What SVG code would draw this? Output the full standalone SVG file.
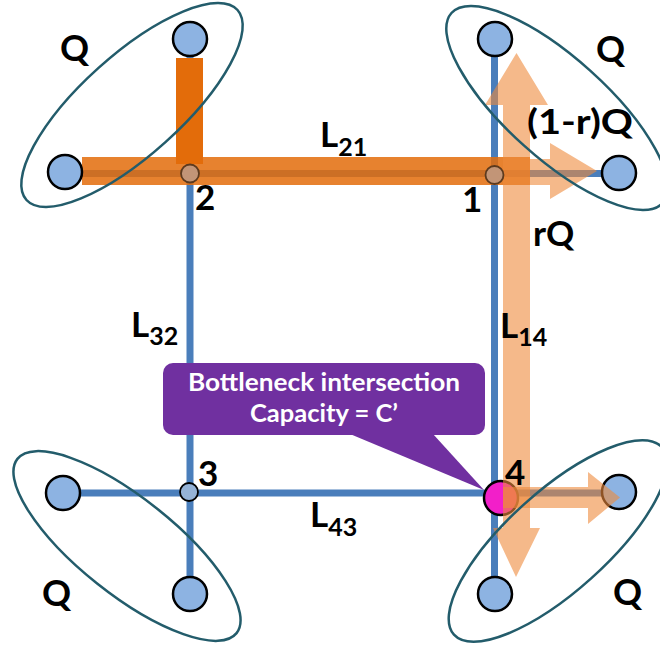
<svg xmlns="http://www.w3.org/2000/svg" width="660" height="645" viewBox="0 0 660 645">
<style>
.road{stroke:#4A7EBB;stroke-width:7;fill:none}
.big{fill:#8DB3E2;stroke:#000;stroke-width:2.5}
.grp{fill:none;stroke:#235C6B;stroke-width:2.5}
.peach{fill:#EE8A3C;fill-opacity:0.6}
.lbl{font-family:Lato,"Liberation Sans",sans-serif;font-weight:bold;fill:#000}
.call{font-family:Lato,"Liberation Sans",sans-serif;font-weight:bold;fill:#fff;font-size:24px}
</style>
<rect width="660" height="645" fill="#fff"/>
<g id="connectors">
  <g id="roads">
    <line class="road" x1="190" y1="39" x2="190" y2="594"/>
    <line class="road" x1="494.5" y1="39" x2="494.5" y2="594"/>
    <line class="road" x1="65" y1="173.5" x2="619" y2="173.5"/>
    <line class="road" x1="63" y1="493" x2="619" y2="493"/>
  </g>
  <g id="flow-main">
    <rect x="82" y="157" width="448" height="28" fill="#E36C0A" fill-opacity="0.85"/>
    <rect x="176" y="58" width="27" height="106" fill="#E36C0A"/>
  </g>
</g>
<g id="node-tl-top"><circle class="big" cx="190" cy="39" r="17"/></g>
<g id="node-tl-left"><circle class="big" cx="65" cy="172" r="17"/></g>
<g id="node-tr-top"><circle class="big" cx="495" cy="39" r="17"/></g>
<g id="node-tr-right"><circle class="big" cx="619" cy="173" r="17"/></g>
<g id="node-bl-left"><circle class="big" cx="63" cy="493" r="17"/></g>
<g id="node-bl-bottom"><circle class="big" cx="190" cy="594" r="17"/></g>
<g id="node-br-bottom"><circle class="big" cx="495" cy="594" r="17"/></g>
<g id="node-br-right"><circle class="big" cx="619" cy="492" r="17"/></g>
<g id="node-4"><circle cx="501" cy="498" r="17" fill="#F21FC9" stroke="#000" stroke-width="2.5"/></g>
<g id="flow-arrows">
  <polygon class="peach" points="503,498 503,105 485,105 516.5,53 548,105 530,105 530,498"/>
  <polygon class="peach" points="503,498 503,528 493,528 516,577 540,528 530,528 530,498"/>
  <polygon class="peach" points="503,487 588,487 588,472 620,497.5 588,524 588,508 503,508"/>
  <polygon class="peach" points="530,159 550,159 550,143 597,171 550,199 550,185 530,185"/>
</g>
<g id="node-1"><circle cx="494.5" cy="175" r="9" fill="#C29577" stroke="#5C3A1E" stroke-width="1.8"/></g>
<g id="node-2"><circle cx="190" cy="173.5" r="9" fill="#C29577" stroke="#5C3A1E" stroke-width="1.8"/></g>
<g id="node-3"><circle cx="189" cy="492" r="9" fill="#95B3D7" stroke="#000" stroke-width="1.8"/></g>
<g id="group-tl"><ellipse class="grp" cx="132" cy="105" rx="142" ry="50" transform="rotate(-42 132 105)"/><text class="lbl" x="60" y="61" font-size="36">Q</text></g>
<g id="group-tr"><ellipse class="grp" cx="557" cy="108" rx="142" ry="50" transform="rotate(42 557 108)"/><text class="lbl" x="596" y="62" font-size="36">Q</text></g>
<g id="group-bl"><ellipse class="grp" cx="127" cy="546" rx="140" ry="48" transform="rotate(38.5 127 546)"/><text class="lbl" x="42" y="606" font-size="36">Q</text></g>
<g id="group-br"><ellipse class="grp" cx="558" cy="541" rx="140" ry="50" transform="rotate(-42 558 541)"/><text class="lbl" x="613" y="605" font-size="36">Q</text></g>
<g id="labels">
  <text class="lbl" x="527" y="134" font-size="35" textLength="106" lengthAdjust="spacingAndGlyphs">(1-r)Q</text>
  <text class="lbl" x="533" y="246" font-size="35">rQ</text>
  <text class="lbl" x="320" y="147" font-size="35">L<tspan font-size="25" dy="9">21</tspan></text>
  <text class="lbl" x="131" y="337" font-size="35">L<tspan font-size="25" dy="8">32</tspan></text>
  <text class="lbl" x="500" y="338" font-size="35">L<tspan font-size="25" dy="8">14</tspan></text>
  <text class="lbl" x="310" y="527" font-size="35">L<tspan font-size="25" dy="9">43</tspan></text>
  <text class="lbl" x="462" y="212" font-size="35">1</text>
  <text class="lbl" x="195" y="210" font-size="35">2</text>
  <text class="lbl" x="198" y="486" font-size="35">3</text>
  <text class="lbl" x="505" y="485" font-size="35">4</text>
</g>
<g id="callout">
  <rect x="163" y="363" width="322" height="72" rx="10" fill="#7030A0"/>
  <polygon points="350,434 433,434 484,490" fill="#7030A0"/>
  <text class="call" x="324" y="391" text-anchor="middle" textLength="272" lengthAdjust="spacingAndGlyphs">Bottleneck intersection</text>
  <text class="call" x="324" y="422" text-anchor="middle" textLength="148" lengthAdjust="spacingAndGlyphs">Capacity = C’</text>
</g>
</svg>
